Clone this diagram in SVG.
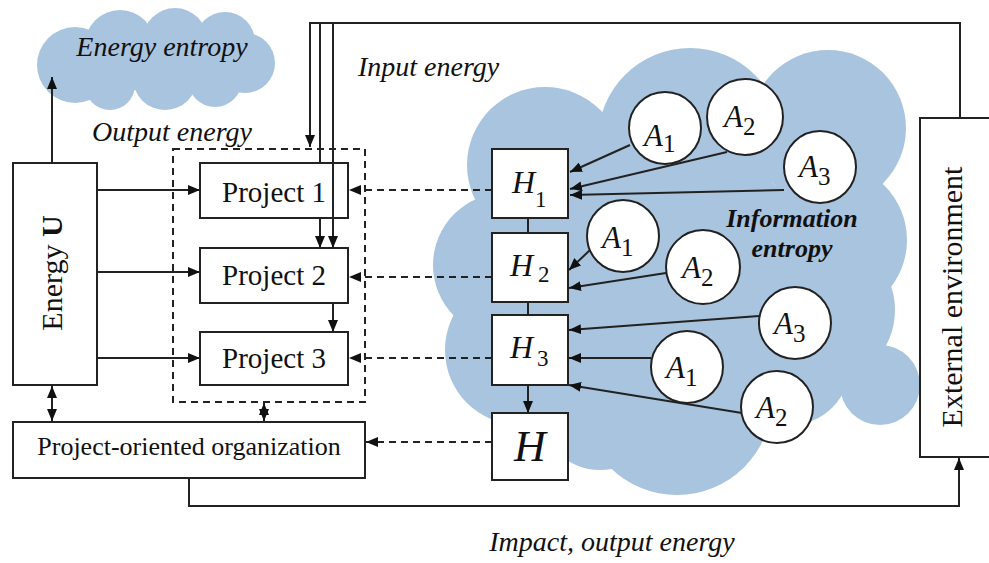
<svg xmlns="http://www.w3.org/2000/svg" width="989" height="563" viewBox="0 0 989 563" font-family="'Liberation Serif', 'DejaVu Serif', serif">
<style>
.box{fill:#fff;stroke:#222;stroke-width:2}
.ln{fill:none;stroke:#222;stroke-width:2}
.dash{fill:none;stroke:#222;stroke-width:2;stroke-dasharray:7 5}
.cloud{fill:#a9c4de}
.circ{fill:#fff;stroke:#222;stroke-width:2}
text{font-family:'Liberation Serif','DejaVu Serif',serif;fill:#111}
.it{font-style:italic}
.up{font-style:normal}
</style>
<defs>
<marker id="ah" viewBox="0 0 12 10" refX="12" refY="5" markerWidth="12" markerHeight="10" markerUnits="userSpaceOnUse" orient="auto-start-reverse">
<path d="M0,0 L12,5 L0,10 z" fill="#111"/>
</marker>
</defs>
<rect width="989" height="563" fill="#fff"/>

<g id="energy-entropy-cloud">
<g class="cloud">
<circle cx="75" cy="65" r="38"/>
<circle cx="120" cy="45" r="35"/>
<circle cx="175" cy="40" r="32"/>
<circle cx="225" cy="42" r="30"/>
<circle cx="245" cy="63" r="30"/>
<circle cx="165" cy="78" r="32"/>
<circle cx="110" cy="85" r="25"/>
<circle cx="215" cy="80" r="27"/>
<rect x="80" y="50" width="160" height="40"/>
</g>
<text class="it" x="162" y="56" font-size="28" text-anchor="middle">Energy entropy</text>
</g>

<g id="information-entropy-cloud" class="cloud">
<circle cx="545" cy="165" r="78"/>
<circle cx="690" cy="140" r="92"/>
<circle cx="828" cy="128" r="78"/>
<circle cx="830" cy="240" r="77"/>
<circle cx="820" cy="310" r="75"/>
<circle cx="505" cy="265" r="72"/>
<circle cx="520" cy="350" r="75"/>
<circle cx="677" cy="400" r="95"/>
<circle cx="600" cy="410" r="60"/>
<circle cx="690" cy="270" r="120"/>
<circle cx="790" cy="365" r="60"/>
<circle cx="600" cy="200" r="80"/>
<circle cx="590" cy="330" r="60"/>
<circle cx="880" cy="385" r="40"/>
</g>

<g id="labels">
<text class="it" x="358" y="76" font-size="28">Input energy</text>
<text class="it" x="92" y="141" font-size="28">Output energy</text>
<text class="it" x="612" y="551" font-size="28" text-anchor="middle">Impact, output energy</text>
<text class="it" x="792" y="227" font-size="26" font-weight="bold" text-anchor="middle">Information</text>
<text class="it" x="792" y="257" font-size="26" font-weight="bold" text-anchor="middle">entropy</text>
</g>

<g id="connectors">
<path class="ln" d="M960 118 V23 H310 V147" marker-end="url(#ah)"/>
<path class="ln" d="M320 23 V163"/>
<path class="ln" d="M320 218 V248" marker-end="url(#ah)"/>
<path class="ln" d="M333 303 V332" marker-end="url(#ah)"/>
<path class="ln" d="M52 163 V77" marker-end="url(#ah)"/>
<path class="ln" d="M97 190 H200" marker-end="url(#ah)"/>
<path class="ln" d="M97 272 H200" marker-end="url(#ah)"/>
<path class="ln" d="M97 358 H200" marker-end="url(#ah)"/>
<path class="dash" d="M492 190 H349" marker-end="url(#ah)"/>
<path class="dash" d="M492 277 H349" marker-end="url(#ah)"/>
<path class="dash" d="M492 358 H349" marker-end="url(#ah)"/>
<path class="dash" d="M492 442 H366" marker-end="url(#ah)"/>
<path class="ln" d="M52 386 V421" marker-start="url(#ah)" marker-end="url(#ah)"/>
<path class="ln" d="M264 403 V421" marker-start="url(#ah)" marker-end="url(#ah)"/>
<path class="ln" d="M189 478 V506 H959 V458" marker-end="url(#ah)"/>
<path class="ln" d="M528 218 V233"/>
<path class="ln" d="M528 302 V315"/>
<path class="ln" d="M528 385 V413" marker-end="url(#ah)"/>
<path class="ln" d="M630 145 L570 172" marker-end="url(#ah)"/>
<path class="ln" d="M727 152 L570 189" marker-end="url(#ah)"/>
<path class="ln" d="M784 190 L570 195" marker-end="url(#ah)"/>
<path class="ln" d="M590 250 L569 270" marker-end="url(#ah)"/>
<path class="ln" d="M666 273 L569 288" marker-end="url(#ah)"/>
<path class="ln" d="M759 316 L569 330" marker-end="url(#ah)"/>
<path class="ln" d="M651 358 L569 358" marker-end="url(#ah)"/>
<path class="ln" d="M742 413 L569 385" marker-end="url(#ah)"/>
</g>

<g id="project-group">
<rect class="dash" x="173" y="149" width="192" height="253"/>
</g>

<g id="energy-u">
<rect class="box" x="13" y="163" width="84" height="222"/>
<text transform="translate(62 273) rotate(-90)" font-size="30" text-anchor="middle">Energy <tspan font-weight="bold">U</tspan></text>
</g>

<g id="project-1">
<rect class="box" x="200" y="163" width="148" height="55"/>
<text x="274" y="202" font-size="29" text-anchor="middle">Project 1</text>
</g>
<g id="project-2">
<rect class="box" x="200" y="248" width="148" height="55"/>
<text x="274" y="285" font-size="29" text-anchor="middle">Project 2</text>
</g>
<g id="project-3">
<rect class="box" x="200" y="332" width="148" height="53"/>
<text x="274" y="368" font-size="29" text-anchor="middle">Project 3</text>
</g>
<g id="input-line-through">
<path class="ln" d="M333 23 V248" marker-end="url(#ah)"/>
</g>

<g id="project-oriented-organization">
<rect class="box" x="13" y="422" width="352" height="56"/>
<text x="189" y="455" font-size="26" text-anchor="middle">Project-oriented organization</text>
</g>

<g id="external-environment">
<rect class="box" x="920" y="118" width="90" height="339"/>
<text transform="translate(962 297) rotate(-90)" font-size="30" text-anchor="middle">External environment</text>
</g>

<g id="H1">
<rect class="box" x="492" y="149" width="76" height="69"/>
<text class="it" x="512" y="193" font-size="32">H<tspan class="up" font-size="23" dy="14">1</tspan></text>
</g>
<g id="H2">
<rect class="box" x="492" y="233" width="76" height="69"/>
<text class="it" x="510" y="276" font-size="32">H<tspan class="up" font-size="23" dx="5" dy="6">2</tspan></text>
</g>
<g id="H3">
<rect class="box" x="492" y="315" width="76" height="70"/>
<text class="it" x="510" y="358" font-size="32">H<tspan class="up" font-size="23" dx="4" dy="8">3</tspan></text>
</g>
<g id="H">
<rect class="box" x="492" y="413" width="76" height="67"/>
<text class="it" x="530" y="461" font-size="44" text-anchor="middle">H</text>
</g>

<g id="A1-top">
<circle class="circ" cx="665" cy="128" r="36"/>
<text class="it" x="644" y="146" font-size="31">A<tspan class="up" font-size="25" dy="6">1</tspan></text>
</g>
<g id="A2-top">
<circle class="circ" cx="745" cy="117" r="38"/>
<text class="it" x="724" y="127" font-size="31">A<tspan class="up" font-size="25" dy="8">2</tspan></text>
</g>
<g id="A3-top">
<circle class="circ" cx="820" cy="167" r="36"/>
<text class="it" x="799" y="177" font-size="31">A<tspan class="up" font-size="25" dy="8">3</tspan></text>
</g>
<g id="A1-mid">
<circle class="circ" cx="623" cy="236" r="36"/>
<text class="it" x="602" y="248" font-size="31">A<tspan class="up" font-size="25" dy="8">1</tspan></text>
</g>
<g id="A2-mid">
<circle class="circ" cx="703" cy="267" r="37"/>
<text class="it" x="682" y="278" font-size="31">A<tspan class="up" font-size="25" dy="8">2</tspan></text>
</g>
<g id="A3-low">
<circle class="circ" cx="795" cy="323" r="36"/>
<text class="it" x="774" y="334" font-size="31">A<tspan class="up" font-size="25" dy="8">3</tspan></text>
</g>
<g id="A1-low">
<circle class="circ" cx="687" cy="367" r="36"/>
<text class="it" x="666" y="378" font-size="31">A<tspan class="up" font-size="25" dy="8">1</tspan></text>
</g>
<g id="A2-low">
<circle class="circ" cx="777" cy="407" r="36"/>
<text class="it" x="756" y="418" font-size="31">A<tspan class="up" font-size="25" dy="8">2</tspan></text>
</g>
</svg>
